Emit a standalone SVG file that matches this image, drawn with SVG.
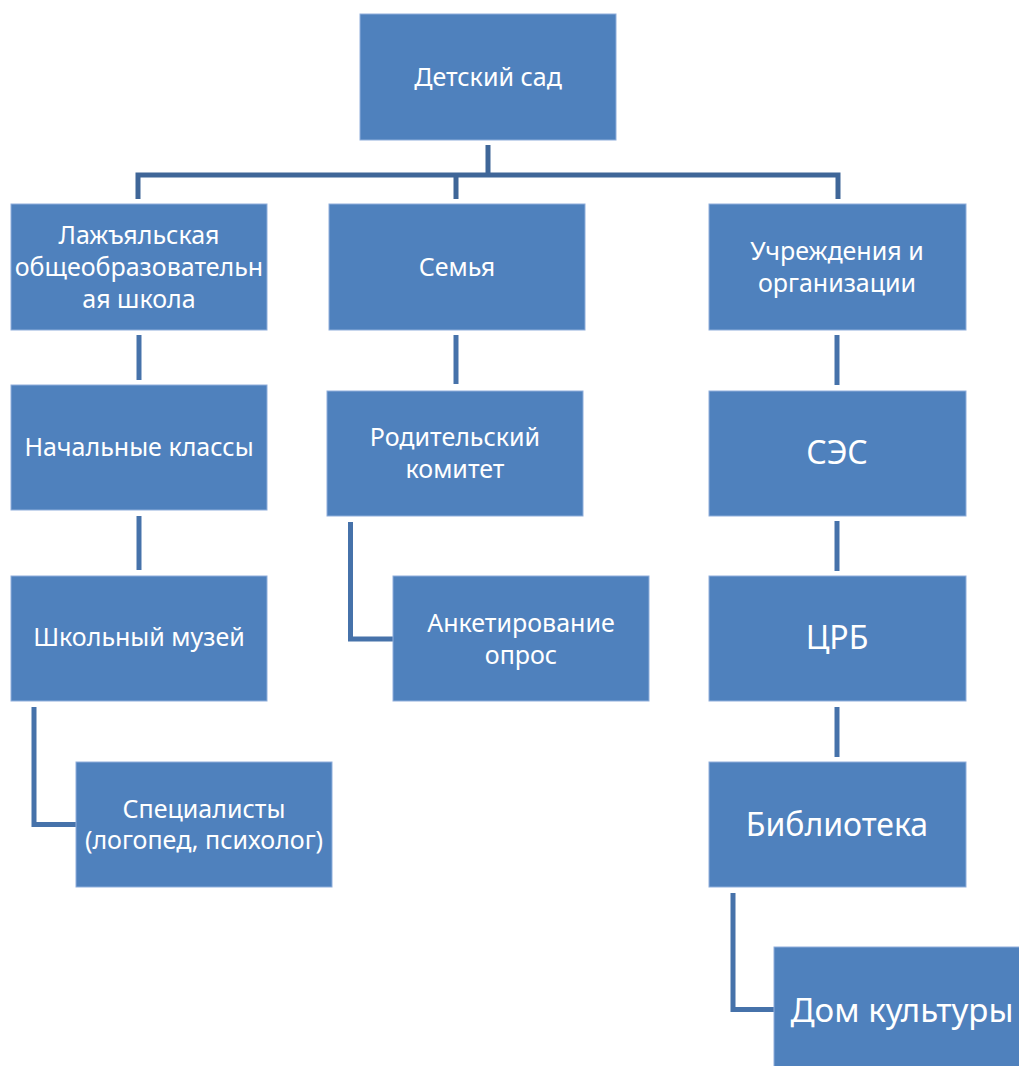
<svg xmlns="http://www.w3.org/2000/svg" width="1019" height="1066" viewBox="0 0 1019 1066">
<style>
.box{fill:#4F81BD;stroke:#8FAEDB;stroke-width:1}
.t{font-family:"Noto Sans","Open Sans","Liberation Sans",sans-serif;font-size:25px;fill:#FFFFFF;text-anchor:middle}
.big{font-size:32px}
.c{fill:none;stroke:#4672AA;stroke-width:5;stroke-linejoin:miter}
.ct{stroke:#3F6698}
</style>
<rect width="1019" height="1066" fill="#FFFFFF"/>
<g id="connectors">
<path class="c ct" d="M488 145 V175 M138 199 V175 H838 V199 M456 175 V199"/>
<path class="c" d="M139 335 V380"/>
<path class="c" d="M139 516 V570"/>
<path class="c" d="M34 707 V824.5 H76"/>
<path class="c" d="M456 335 V384"/>
<path class="c" d="M350.5 522 V639 H393"/>
<path class="c" d="M837 335 V385"/>
<path class="c" d="M837 521 V571"/>
<path class="c" d="M837 707 V757"/>
<path class="c" d="M733 893 V1009.5 H774"/>
</g>
<g id="n-detsad">
<rect class="box" x="360" y="14" width="256" height="126"/>
<text class="t" x="488" y="86">Детский сад</text>
</g>
<g id="n-school">
<rect class="box" x="11" y="204" width="256" height="126"/>
<text class="t" x="139" y="244">Лажъяльская</text>
<text class="t" x="139" y="276">общеобразовательн</text>
<text class="t" x="139" y="308">ая школа</text>
</g>
<g id="n-family">
<rect class="box" x="329" y="204" width="256" height="126"/>
<text class="t" x="457" y="276">Семья</text>
</g>
<g id="n-org">
<rect class="box" x="709" y="204" width="257" height="126"/>
<text class="t" x="837" y="260">Учреждения и</text>
<text class="t" x="837" y="292">организации</text>
</g>
<g id="n-classes">
<rect class="box" x="11" y="385" width="256" height="125"/>
<text class="t" x="139" y="456">Начальные классы</text>
</g>
<g id="n-parents">
<rect class="box" x="327" y="391" width="256" height="125"/>
<text class="t" x="455" y="446">Родительский</text>
<text class="t" x="455" y="478">комитет</text>
</g>
<g id="n-ses">
<rect class="box" x="709" y="391" width="257" height="125"/>
<text class="t big" x="837" y="464">СЭС</text>
</g>
<g id="n-museum">
<rect class="box" x="11" y="576" width="256" height="125"/>
<text class="t" x="139" y="646">Школьный музей</text>
</g>
<g id="n-survey">
<rect class="box" x="393" y="576" width="256" height="125"/>
<text class="t" x="521" y="632">Анкетирование</text>
<text class="t" x="521" y="664">опрос</text>
</g>
<g id="n-crb">
<rect class="box" x="709" y="576" width="257" height="125"/>
<text class="t big" x="837" y="649">ЦРБ</text>
</g>
<g id="n-specialists">
<rect class="box" x="76" y="762" width="256" height="125"/>
<text class="t" x="204" y="818">Специалисты</text>
<text class="t" x="204" y="849">(логопед, психолог)</text>
</g>
<g id="n-library">
<rect class="box" x="709" y="762" width="257" height="125"/>
<text class="t big" x="837" y="836">Библиотека</text>
</g>
<g id="n-culture">
<rect class="box" x="774" y="947" width="256" height="125"/>
<text class="t big" x="902" y="1022" style="font-size:33px">Дом культуры</text>
</g>
</svg>
